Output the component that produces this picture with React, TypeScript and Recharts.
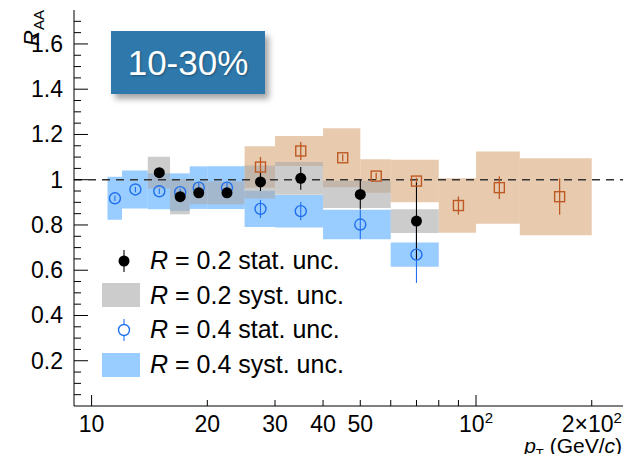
import React from 'react'
import { ComposedChart, XAxis, YAxis, Scatter, ErrorBar, ReferenceArea, ReferenceLine } from 'recharts'

const W = 623
const H = 446
const FONT = '"Liberation Sans", Arial, Helvetica, sans-serif'

// R = 0.2 (black)
const r02Pt = [15, 17, 19, 22.5, 27.5, 35, 50, 70]
const r02Val = [1.031, 0.925, 0.942, 0.942, 0.99, 1.006, 0.935, 0.817]
const r02Stat = [0.012, 0.015, 0.015, 0.015, 0.04, 0.05, 0.065, 0.17]
const r02Sys = [0.07, 0.078, 0.05, 0.05, 0.073, 0.072, 0.06, 0.052]
const r02BinLo = [14, 16, 18, 20, 25, 30, 40, 60]
const r02BinHi = [16, 18, 20, 25, 30, 40, 60, 80]

// R = 0.4 (blue)
const r04Pt = [11.5, 13, 15, 17, 19, 22.5, 27.5, 35, 50, 70]
const r04Val = [0.918, 0.957, 0.949, 0.945, 0.965, 0.965, 0.871, 0.861, 0.802, 0.669]
const r04Stat = [0.012, 0.012, 0.012, 0.015, 0.02, 0.02, 0.04, 0.04, 0.065, 0.125]
const r04Sys = [0.095, 0.084, 0.08, 0.083, 0.094, 0.094, 0.08, 0.072, 0.065, 0.054]
const r04BinLo = [11, 12, 14, 16, 18, 20, 25, 30, 40, 60]
const r04BinHi = [12, 14, 16, 18, 20, 25, 30, 40, 60, 80]

// comparison (brown squares)
const cmpPt = [27.5, 35, 45, 55, 70, 90, 115, 165]
const cmpVal = [1.056, 1.127, 1.097, 1.016, 0.994, 0.886, 0.965, 0.925]
const cmpStat = [0.045, 0.04, 0.015, 0.015, 0.015, 0.04, 0.05, 0.08]
const cmpSys = [0.092, 0.066, 0.13, 0.074, 0.094, 0.12, 0.16, 0.17]
const cmpBinLo = [25, 30, 40, 50, 60, 80, 100, 130]
const cmpBinHi = [30, 40, 50, 60, 80, 100, 130, 200]

const xTicks = [10, 20, 30, 40, 50, 60, 70, 80, 90, 100, 200]
const yTicks = [0.05, 0.1, 0.15, 0.2, 0.25, 0.3, 0.35, 0.4, 0.45, 0.5, 0.55, 0.6, 0.65, 0.7, 0.75, 0.8, 0.85, 0.9, 0.95, 1,
  1.05, 1.1, 1.15, 1.2, 1.25, 1.3, 1.35, 1.4, 1.45, 1.5, 1.55, 1.6, 1.65, 1.7]
const yLabels = [0.2, 0.4, 0.6, 0.8, 1, 1.2, 1.4, 1.6]

const toPoints = (pt: number[], val: number[], stat: number[]) =>
  pt.map((p, i) => ({ pt: p, v: val[i], err: stat[i] }))

const r02Data = toPoints(r02Pt, r02Val, r02Stat)
const r04Data = toPoints(r04Pt, r04Val, r04Stat)
const cmpData = toPoints(cmpPt, cmpVal, cmpStat)

const BLUE = '#1f6fee'
const BROWN = '#bd5a24'

const isMajorY = (v: number) => yLabels.some(l => Math.abs(l - v) < 1e-6)

function XTickBottom(props: any) {
  const { x, y, payload } = props
  const v = payload.value
  const len = v === 10 || v === 100 ? 11 : 6
  let label: React.ReactNode = null
  if (v <= 50) label = String(v)
  if (v === 100) label = <>10<tspan dy={-9} fontSize={15}>2</tspan></>
  if (v === 200) label = <>2×10<tspan dy={-9} fontSize={15}>2</tspan></>
  return (
    <g>
      <line x1={x} x2={x} y1={y} y2={y - len} stroke="#000" strokeWidth={1} />
      {label && (
        <text x={x} y={y + 26} textAnchor="middle" fontSize={23} fontFamily={FONT} fill="#000">{label}</text>
      )}
    </g>
  )
}

function XTickTop(props: any) {
  const { x, y, payload } = props
  const v = payload.value
  const len = v === 10 || v === 100 ? 11 : 6
  return <line x1={x} x2={x} y1={y} y2={y + len} stroke="#000" strokeWidth={1} />
}

function YTickLeft(props: any) {
  const { x, y, payload } = props
  const v = payload.value
  const major = isMajorY(v)
  const len = major ? 14 : 7
  return (
    <g>
      <line x1={x} x2={x + len} y1={y} y2={y} stroke="#000" strokeWidth={1} />
      {major && (
        <text x={x - 11} y={y + 8} textAnchor="end" fontSize={23} fontFamily={FONT} fill="#000">
          {v === 1 ? '1' : v.toFixed(1)}
        </text>
      )}
    </g>
  )
}

function YTickRight(props: any) {
  const { x, y, payload } = props
  const len = isMajorY(payload.value) ? 14 : 7
  return <line x1={x} x2={x - len} y1={y} y2={y} stroke="#000" strokeWidth={1} />
}

const BlackDot = (p: any) => <circle cx={p.cx} cy={p.cy} r={5.5} fill="#000" />
const BlueRing = (p: any) => <circle cx={p.cx} cy={p.cy} r={5.5} fill="none" stroke={BLUE} strokeWidth={1.4} />
const BrownSquare = (p: any) => (
  <rect x={p.cx - 5} y={p.cy - 5} width={10} height={10} fill="none" stroke={BROWN} strokeWidth={1.4} />
)

export default function App() {
  return (
    <div style={{ position: 'relative', width: W, height: H }}>
      <ComposedChart width={W} height={H} margin={{ top: 2, right: 2, left: 0, bottom: 0 }}>
        <XAxis dataKey="pt" type="number" scale="log" domain={[9, 250]} ticks={xTicks} interval={0}
          tick={<XTickBottom />} tickSize={0} tickMargin={0} height={48} allowDataOverflow
          axisLine={{ stroke: '#000', strokeWidth: 1 }} />
        <XAxis xAxisId="top" orientation="top" dataKey="pt" type="number" scale="log" domain={[9, 250]}
          ticks={xTicks} interval={0} tick={<XTickTop />} tickSize={0} tickMargin={0} height={0}
          allowDataOverflow axisLine={{ stroke: '#000', strokeWidth: 1 }} />
        <YAxis dataKey="v" type="number" domain={[0, 1.75]} ticks={yTicks} interval={0}
          tick={<YTickLeft />} tickSize={0} tickMargin={0} width={66} allowDataOverflow
          axisLine={{ stroke: '#000', strokeWidth: 1 }} />
        <YAxis yAxisId="right" orientation="right" dataKey="v" type="number" domain={[0, 1.75]}
          ticks={yTicks} interval={0} tick={<YTickRight />} tickSize={0} tickMargin={0} width={0}
          allowDataOverflow axisLine={{ stroke: '#000', strokeWidth: 1 }} />

        {cmpPt.map((p, i) => (
          <ReferenceArea key={'c' + i} x1={cmpBinLo[i]} x2={cmpBinHi[i]} y1={cmpVal[i] - cmpSys[i]}
            y2={cmpVal[i] + cmpSys[i]} fill="#d9a878" fillOpacity={0.6} stroke="none" ifOverflow="hidden" />
        ))}
        {r04Pt.map((p, i) => (
          <ReferenceArea key={'b' + i} x1={r04BinLo[i]} x2={r04BinHi[i]} y1={r04Val[i] - r04Sys[i]}
            y2={r04Val[i] + r04Sys[i]} fill="#55aaff" fillOpacity={0.6} stroke="none" ifOverflow="hidden" />
        ))}
        {r02Pt.map((p, i) => (
          <ReferenceArea key={'g' + i} x1={r02BinLo[i]} x2={r02BinHi[i]} y1={r02Val[i] - r02Sys[i]}
            y2={r02Val[i] + r02Sys[i]} fill="#aaaaaa" fillOpacity={0.6} stroke="none" ifOverflow="hidden" />
        ))}

        <ReferenceLine y={1} stroke="#333" strokeWidth={1.5} strokeDasharray="8 6" />

        <Scatter data={cmpData} shape={BrownSquare} isAnimationActive={false}>
          <ErrorBar dataKey="err" direction="y" width={0} stroke={BROWN} strokeWidth={1.3} />
        </Scatter>
        <Scatter data={r04Data} shape={BlueRing} isAnimationActive={false}>
          <ErrorBar dataKey="err" direction="y" width={0} stroke={BLUE} strokeWidth={1.1} />
        </Scatter>
        <Scatter data={r02Data} shape={BlackDot} isAnimationActive={false}>
          <ErrorBar dataKey="err" direction="y" width={0} stroke="#000" strokeWidth={1.1} />
        </Scatter>
      </ComposedChart>

      <div style={{
        position: 'absolute', left: 103, top: 23, width: 154, height: 63, background: '#2e78ab',
        boxShadow: '4px 5px 6px rgba(0,0,0,0.35)', color: '#fff', fontFamily: FONT, fontSize: 35,
        display: 'flex', alignItems: 'center', justifyContent: 'center', textShadow: '1px 1px 2px rgba(0,0,0,0.3)'
      }}>10-30%</div>

      <div style={{
        position: 'absolute', right: 9, top: 429, fontFamily: FONT, fontSize: 21, lineHeight: '18px',
        whiteSpace: 'nowrap', color: '#000'
      }}>
        <i>p</i><span style={{ fontSize: 13, position: 'relative', top: 5 }}>T</span> (GeV/<i>c</i>)
      </div>

      <svg width={W} height={H} style={{ position: 'absolute', left: 0, top: 0, pointerEvents: 'none' }}
        fontFamily={FONT}>
        <text transform="translate(31, 2) rotate(-90)" textAnchor="end" fontSize={22} fill="#000">
          <tspan fontStyle="italic">R</tspan><tspan fontSize={15} dy={5}>AA</tspan>
        </text>

        <line x1={116} x2={116} y1={242} y2={264} stroke="#000" strokeWidth={1.1} />
        <circle cx={116} cy={253} r={5.5} fill="#000" />
        <rect x={94} y={275} width={38} height={24} fill="#cccccc" />
        <line x1={116} x2={116} y1={311} y2={316.5} stroke={BLUE} strokeWidth={1.1} />
        <line x1={116} x2={116} y1={327.5} y2={333} stroke={BLUE} strokeWidth={1.1} />
        <circle cx={116} cy={322} r={5.5} fill="none" stroke={BLUE} strokeWidth={1.4} />
        <rect x={94} y={345} width={38} height={24} fill="#99ccff" />

        {['0.2 stat. unc.', '0.2 syst. unc.', '0.4 stat. unc.', '0.4 syst. unc.'].map((t, i) => (
          <text key={t} x={142} y={261 + i * 34.5} fontSize={25} fill="#000">
            <tspan fontStyle="italic">R</tspan> = {t}
          </text>
        ))}
      </svg>
    </div>
  )
}
